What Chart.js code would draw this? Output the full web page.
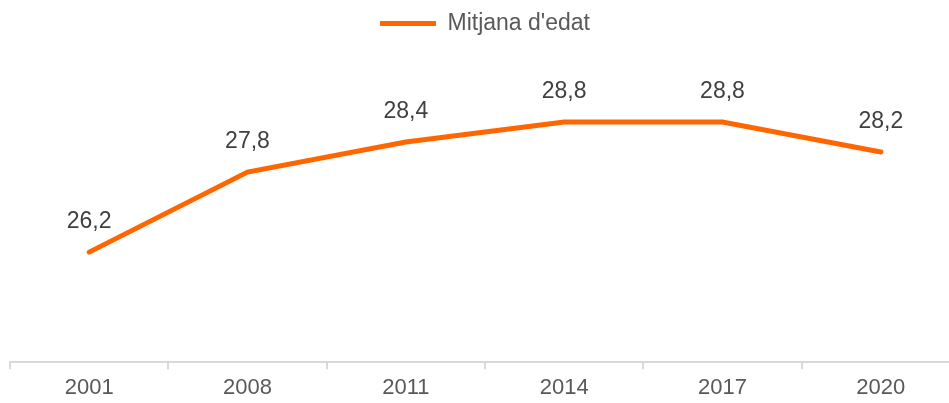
<!DOCTYPE html>
<html>
<head>
<meta charset="utf-8">
<script src="https://cdn.jsdelivr.net/npm/chart.js@4/dist/chart.umd.min.js"></script>
<style>
  html, body { margin: 0; padding: 0; background: #fff; overflow: hidden; }
  #wrap { width: 962px; height: 406px; }
</style>
</head>
<body>
<div id="wrap"><canvas id="myChart" width="962" height="406"></canvas></div>
<script>
const years = ["2001", "2008", "2011", "2014", "2017", "2020"];
const meanAge = [26.2, 27.8, 28.4, 28.8, 28.8, 28.2];
const seriesName = "Mitjana d'edat";

/* etiquetes de valor sobre cada punt */
const valueLabels = {
  id: "valueLabels",
  afterDatasetsDraw(chart) {
    const c = chart.ctx;
    const meta = chart.getDatasetMeta(0);
    c.save();
    c.font = "23px 'Liberation Sans', Arial, sans-serif";
    c.fillStyle = "#404040";
    c.textAlign = "center";
    c.textBaseline = "alphabetic";
    meta.data.forEach((pt, i) => {
      const txt = meanAge[i].toFixed(1).replace(".", ",");
      c.fillText(txt, pt.x, pt.y - 24);
    });
    c.restore();
  }
};

/* espai extra sota la llegenda */
const legendGap = {
  id: "legendGap",
  beforeInit(chart) {
    const origFit = chart.legend.fit;
    chart.legend.fit = function () {
      origFit.bind(chart.legend)();
      this.height += 17;
    };
  }
};

const ctx = document.getElementById("myChart");

new Chart(ctx, {
  type: "line",
  data: {
    labels: years,
    datasets: [{
      label: seriesName,
      data: meanAge,
      borderColor: "#ff6600",
      backgroundColor: "#ff6600",
      borderWidth: 5,
      borderCapStyle: "round",
      borderJoinStyle: "miter",
      pointRadius: 0,
      pointStyle: "line",
      tension: 0,
      fill: false
    }]
  },
  options: {
    responsive: false,
    animation: false,
    layout: { padding: { left: 10, right: 2, top: 0, bottom: 0 } },
    plugins: {
      legend: {
        position: "top",
        labels: {
          usePointStyle: true,
          pointStyleWidth: 56,
          color: "#595959",
          font: { family: "'Liberation Sans', Arial, sans-serif", size: 23 },
          padding: 12
        }
      },
      tooltip: { enabled: false }
    },
    scales: {
      x: {
        offset: true,
        grid: {
          offset: true,
          drawOnChartArea: false,
          drawTicks: true,
          tickLength: 7,
          color: "#d9d9d9",
          lineWidth: 2
        },
        border: { color: "#d9d9d9", width: 2 },
        ticks: {
          color: "#595959",
          font: { family: "'Liberation Sans', Arial, sans-serif", size: 22, lineHeight: 0.49 },
          padding: 13,
          maxRotation: 0
        }
      },
      y: {
        display: false,
        min: 24,
        max: 30
      }
    }
  },
  plugins: [valueLabels, legendGap]
});
</script>
</body>
</html>
